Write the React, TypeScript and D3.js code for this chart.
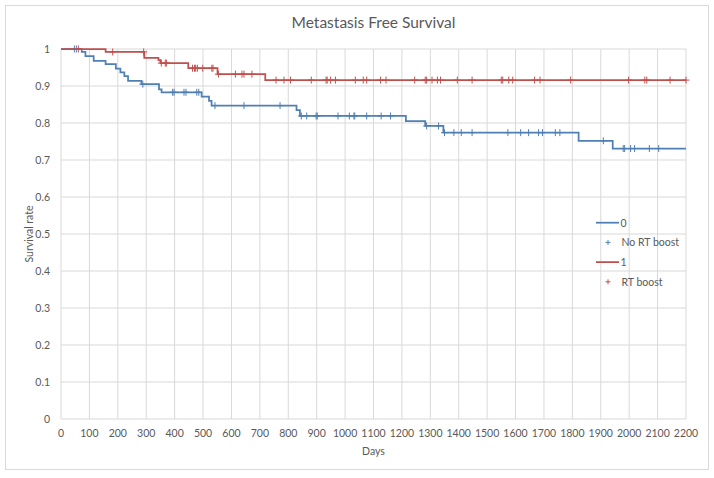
import React from "react";
import * as d3 from "d3";

const xTicks = [0, 100, 200, 300, 400, 500, 600, 700, 800, 900, 1000, 1100, 1200, 1300, 1400, 1500, 1600, 1700, 1800, 1900, 2000, 2100, 2200];
const yTicks = [0, 0.1, 0.2, 0.3, 0.4, 0.5, 0.6, 0.7, 0.8, 0.9, 1];

// Group 0: No RT boost
const blueEventDays = [73, 86, 115, 157, 193, 209, 223, 236, 283, 345, 354, 495, 521, 530, 829, 841, 1214, 1282, 1346, 1822, 1942];
const blueSurvival = [0.992, 0.981, 0.968, 0.959, 0.947, 0.937, 0.927, 0.914, 0.905, 0.891, 0.883, 0.871, 0.86, 0.847, 0.835, 0.819, 0.805, 0.792, 0.774, 0.752, 0.731];
const blueCensorDays = [47, 54, 288, 393, 398, 433, 440, 478, 485, 542, 644, 771, 846, 865, 898, 902, 975, 1015, 1031, 1034, 1076, 1127, 1160, 1287, 1329, 1350, 1383, 1409, 1447, 1573, 1618, 1646, 1681, 1695, 1740, 1756, 1909, 1979, 1984, 2005, 2019, 2071, 2104];

// Group 1: RT boost
const redEventDays = [157, 293, 343, 350, 448, 551, 719];
const redSurvival = [0.992, 0.976, 0.97, 0.962, 0.948, 0.932, 0.916];
const redCensorDays = [61, 182, 291, 353, 367, 371, 463, 470, 474, 480, 499, 531, 535, 554, 614, 637, 644, 672, 757, 785, 808, 881, 933, 937, 949, 966, 1036, 1064, 1076, 1125, 1144, 1245, 1282, 1287, 1306, 1325, 1336, 1395, 1447, 1550, 1555, 1576, 1590, 1667, 1686, 1794, 1998, 2055, 2062, 2144, 2200];

const BLUE = "#4f7fb3";
const RED = "#c0504d";
const TEXT = "#595959";
const GRID = "#d9d9d9";
const FONT = "Lato, 'Open Sans', sans-serif";

function survAt(days: number[], surv: number[], t: number) {
  let s = 1;
  for (let i = 0; i < days.length; i++) if (days[i] <= t) s = surv[i];
  return s;
}

export default function App() {
  const W = 714, H = 478;
  const x = d3.scaleLinear().domain([0, 2200]).range([61, 686]);
  const y = d3.scaleLinear().domain([0, 1]).range([419, 49]);
  const line = d3.line<[number, number]>().x(d => x(d[0])).y(d => y(d[1])).curve(d3.curveStepAfter);

  const mkPts = (days: number[], surv: number[]): [number, number][] => {
    const pts: [number, number][] = [[0, 1]];
    days.forEach((d, i) => pts.push([d, surv[i]]));
    pts.push([2200, surv[surv.length - 1]]);
    return pts;
  };

  const plus = (cx: number, cy: number, r: number) => `M${cx - r},${cy}H${cx + r}M${cx},${cy - r}V${cy + r}`;

  const series = [
    { days: blueEventDays, surv: blueSurvival, cens: blueCensorDays, color: BLUE },
    { days: redEventDays, surv: redSurvival, cens: redCensorDays, color: RED },
  ];

  const legendItems = [
    { kind: "line", color: BLUE, label: "0" },
    { kind: "plus", color: BLUE, label: "No RT boost" },
    { kind: "line", color: RED, label: "1" },
    { kind: "plus", color: RED, label: "RT boost" },
  ];

  return (
    <svg width={W} height={H} style={{ position: "absolute", left: 0, top: 0, background: "#fff" }} fontFamily={FONT}>
      <rect x={5.5} y={5.5} width={703} height={464} fill="#fff" stroke={GRID} strokeWidth={1} />
      <text x={373.5} y={28} textAnchor="middle" fontSize={15.5} fill={TEXT}>Metastasis Free Survival</text>
      {xTicks.map(t => (
        <line key={"vx" + t} x1={x(t)} x2={x(t)} y1={y(0)} y2={y(1)} stroke={GRID} strokeWidth={1} />
      ))}
      {yTicks.map(t => (
        <line key={"hy" + t} x1={x(0)} x2={x(2200)} y1={y(t)} y2={y(t)} stroke={GRID} strokeWidth={1} />
      ))}
      {xTicks.map(t => (
        <text key={"tx" + t} x={x(t)} y={437} textAnchor="middle" fontSize={10.5} fill={TEXT}>{t}</text>
      ))}
      {yTicks.map(t => (
        <text key={"ty" + t} x={50} y={y(t) + 3.5} textAnchor="end" fontSize={10.5} fill={TEXT}>{d3.format("~g")(t)}</text>
      ))}
      <text x={373.5} y={455} textAnchor="middle" fontSize={10.5} fill={TEXT}>Days</text>
      <text transform={`translate(33,234) rotate(-90)`} textAnchor="middle" fontSize={10.5} fill={TEXT}>Survival rate</text>
      {series.map((s, i) => (
        <g key={"s" + i}>
          <path d={line(mkPts(s.days, s.surv)) || ""} fill="none" stroke={s.color} strokeWidth={1.75} />
          {s.cens.map((c, j) => (
            <path key={j} d={plus(x(c), y(survAt(s.days, s.surv, c)), 3.5)} stroke={s.color} strokeWidth={1} fill="none" />
          ))}
        </g>
      ))}
      {legendItems.map((it, i) => {
        const cy = 222.7 + i * 19.7;
        return (
          <g key={"lg" + i}>
            {it.kind === "line" ? (
              <line x1={596} x2={619} y1={cy} y2={cy} stroke={it.color} strokeWidth={1.75} />
            ) : (
              <path d={plus(608, cy, 2.5)} stroke={it.color} strokeWidth={1} />
            )}
            <text x={it.kind === "line" ? 620.5 : 621.5} y={cy + 3.8} fontSize={10.5} fill={TEXT}>{it.label}</text>
          </g>
        );
      })}
    </svg>
  );
}
